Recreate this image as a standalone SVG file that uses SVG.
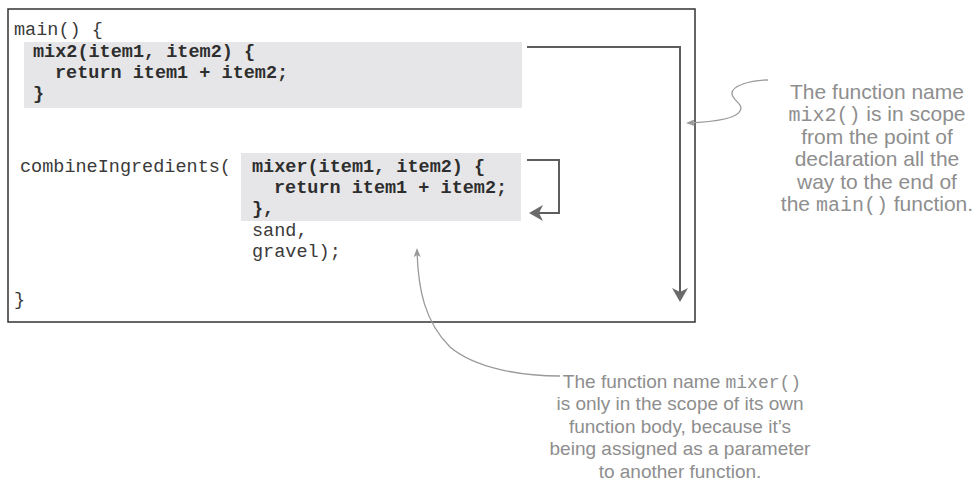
<svg xmlns="http://www.w3.org/2000/svg" width="978" height="496" viewBox="0 0 978 496">
<style>
.code{font-family:"Liberation Mono","Courier New",monospace;font-size:18.5px;fill:#3a3a3a}
.b{font-weight:bold;fill:#2e2e2e}
.note{font-family:"Liberation Sans",Arial,sans-serif;font-size:21px;fill:#8e8e8e;text-anchor:middle}
.note2{font-family:"Liberation Sans",Arial,sans-serif;font-size:19px;fill:#8e8e8e;text-anchor:middle}
.mono{font-family:"Liberation Mono","Courier New",monospace;font-size:20px}
.mono2{font-family:"Liberation Mono","Courier New",monospace;font-size:18px}
.hl{fill:#e6e6e8}
.flow{fill:none;stroke:#5e5e5e;stroke-width:2}
.call{fill:none;stroke:#9a9a9a;stroke-width:1.3}
</style>
<defs>
<marker id="big" viewBox="0 0 14 16" refX="8" refY="8" markerWidth="14" markerHeight="16" markerUnits="userSpaceOnUse" orient="auto">
<path d="M0,0 L14,8 L0,16 L4,8 Z" fill="#6a6a6a"/>
</marker>
<marker id="small" viewBox="0 0 9 7" refX="7" refY="3.5" markerWidth="9" markerHeight="7" markerUnits="userSpaceOnUse" orient="auto">
<path d="M0,0 L9,3.5 L0,7 L2,3.5 Z" fill="#9a9a9a"/>
</marker>
</defs>
<g id="main-box">
<rect x="8" y="9" width="687" height="313" fill="#fff" stroke="#333" stroke-width="1.5"/>
<text class="code" x="14" y="35">main() {</text>
<text class="code" x="14" y="305">}</text>
</g>
<g id="mix2-block">
<rect class="hl" x="24" y="42" width="498" height="66"/>
<text class="code b" x="33" y="57">mix2(item1, item2) {</text>
<text class="code b" x="55" y="78">return item1 + item2;</text>
<text class="code b" x="33" y="99">}</text>
</g>
<g id="combine-call">
<text class="code" x="20" y="172">combineIngredients(</text>
<text class="code" x="252" y="236">sand,</text>
<text class="code" x="252" y="257">gravel);</text>
</g>
<g id="mixer-block">
<rect class="hl" x="241" y="153" width="280" height="68"/>
<text class="code b" x="252" y="172">mixer(item1, item2) {</text>
<text class="code b" x="274" y="193">return item1 + item2;</text>
<text class="code b" x="252" y="214">},</text>
</g>
<g id="note-mix2">
<text class="note" x="877" y="99">The function name</text>
<text class="note" x="877" y="121"><tspan class="mono">mix2()</tspan>  is in scope</text>
<text class="note" x="877" y="144">from the point of</text>
<text class="note" x="877" y="166">declaration all the</text>
<text class="note" x="877" y="189">way to the end of</text>
<text class="note" x="877" y="211">the <tspan class="mono">main()</tspan> function.</text>
</g>
<g id="note-mixer">
<text class="note2" x="682" y="388">The function name <tspan class="mono2">mixer()</tspan></text>
<text class="note2" x="680" y="410">is only in the scope of its own</text>
<text class="note2" x="680" y="433">function body, because it’s</text>
<text class="note2" x="680" y="455">being assigned as a parameter</text>
<text class="note2" x="680" y="478">to another function.</text>
</g>
<g id="connectors">
<path class="flow" d="M527,47 H680 V296" marker-end="url(#big)"/>
<path class="flow" d="M527,160 H559 V213 H535" marker-end="url(#big)"/>
<path class="call" d="M768,80 C750,80 731,86 732,94 C733,101 744,104 740,111 C736,119 712,122 688,123" marker-end="url(#small)"/>
<path class="call" d="M560,376 C520,376 475,368 450,347 C425,322 418,290 417,250" marker-end="url(#small)"/>
</g>
</svg>
